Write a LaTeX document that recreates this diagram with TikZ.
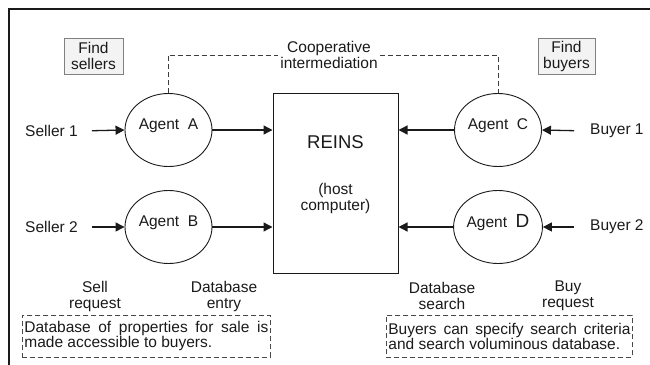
\documentclass[tikz,border=0pt]{standalone}
\usepackage{fontspec}
\setmainfont{Liberation Sans}
\usetikzlibrary{arrows.meta,shapes.geometric,calc}
\definecolor{ink}{HTML}{1A1A1A}
\definecolor{boxedge}{HTML}{808080}
\definecolor{boxfill}{HTML}{F3F3F3}
\tikzset{
  lbl/.style={font=\fontsize{15.5}{16}\selectfont, text=ink, align=center, inner sep=2pt},
  agent/.style={ellipse, draw=ink, line width=0.9pt, minimum width=87pt, minimum height=73pt,
      font=\fontsize{15.5}{15.5}\selectfont, text=ink, text depth=12pt, inner sep=0pt},
  findbox/.style={draw=boxedge, fill=boxfill, line width=0.8pt, font=\fontsize{15.5}{16}\selectfont,
      text=ink, align=center, minimum height=36pt, inner sep=2pt},
  hostbox/.style={draw=ink, line width=1pt, minimum width=125pt, minimum height=180pt},
  arr/.style={draw=ink, line width=1.3pt, -{Triangle[length=9pt,width=9pt]}},
  coopline/.style={draw=ink!85, line width=0.8pt, dash pattern=on 5pt off 3pt},
  notebox/.style={draw=ink!80, line width=0.8pt, dash pattern=on 5pt off 3pt, anchor=north west,
      font=\fontsize{15.5}{15}\selectfont, text=ink, align=justify, text width=244pt,
      minimum height=42pt, inner xsep=2pt, inner ysep=0pt},
}
\begin{document}
\begin{tikzpicture}[x=1pt,y=-1pt]
\useasboundingbox (0,0) rectangle (650,364);
% outer frame (only left and top edges are visible)
\draw[ink, line width=1.2pt] (9,372) -- (9,9) -- (660,9);

% find boxes
\node[findbox, minimum width=59pt] (fs) at (93.5,56) {Find\\sellers};
\node[findbox, minimum width=57pt] (fb) at (566.5,56) {Find\\buyers};

% agents
\node[agent] (A) at (168.5,130) {Agent\ \ A};
\node[agent] (B) at (168.5,227) {Agent\ \ B};
\node[agent] (C) at (498,130) {Agent\ \ C};
\node[agent] (D) at (498,227) {Agent\ \ {\fontsize{19}{19}\selectfont D}};

% host
\node[hostbox] (reins) at (335.5,183) {};
\node[lbl, font=\fontsize{18.5}{18.5}\selectfont] (rt) at (335.5,142) {REINS};
\node[lbl] (ht) at (335.5,198) {(host\\computer)};

% sellers / buyers
\node[lbl, anchor=west] (s1) at (23,131) {Seller 1};
\node[lbl, anchor=west] (s2) at (23,227) {Seller 2};
\node[lbl, anchor=west] (b1) at (588,131) {Buyer 1};
\node[lbl, anchor=west] (b2) at (588,227) {Buyer 2};

\draw[arr, shorten <=12pt] (s1.east) -- (A.west);
\draw[arr, shorten <=12pt] (s2.east) -- (B.west);
\draw[arr, shorten <=14pt] (b1.west) -- (C.east);
\draw[arr, shorten <=14pt] (b2.west) -- (D.east);
\draw[arr] (A.east) -- (A.east -| reins.west);
\draw[arr] (B.east) -- (B.east -| reins.west);
\draw[arr] (C.west) -- (C.west -| reins.east);
\draw[arr] (D.west) -- (D.west -| reins.east);

% cooperative intermediation
\node[lbl] (coop) at (329,55) {Cooperative\\intermediation};
\draw[coopline] (A.north) |- (coop.west);
\draw[coopline] (coop.east) -| (C.north);

% bottom labels
\node[lbl] (sr) at (95,296) {Sell\\request};
\node[lbl] (de) at (224,296) {Database\\entry};
\node[lbl] (ds) at (442,296) {Database\\search};
\node[lbl] (br) at (568,296) {Buy\\request};

% notes
\node[notebox, text width=244pt] (n1) at (22,315) {Database of properties for sale is made accessible to buyers.};
\node[notebox, text width=242pt] (n2) at (386,315) {Buyers can specify search criteria and search voluminous database.};
\end{tikzpicture}
\end{document}
